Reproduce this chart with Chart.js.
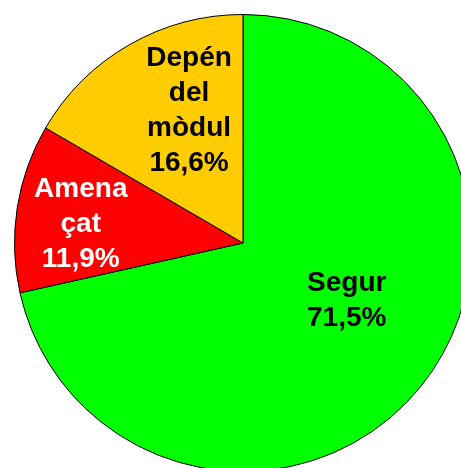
<!DOCTYPE html>
<html>
<head>
<meta charset="utf-8">
<script src="https://cdn.jsdelivr.net/npm/chart.js@4"></script>
<style>
  html, body { margin: 0; padding: 0; background: #fff; overflow: hidden; }
  #wrap { width: 461px; height: 468px; overflow: hidden; position: relative; }
  #chart { display: block; }
</style>
</head>
<body>
<div id="wrap"><canvas id="chart" width="486" height="486"></canvas></div>
<script>
// ---------- Dados ----------
const categories = ['Segur', 'Amenaçat', 'Depén del mòdul'];
const values     = [71.5, 11.9, 16.6];
const labelLines = [['Segur', '71,5%'], ['Amena', 'çat', '11,9%'], ['Depén', 'del', 'mòdul', '16,6%']];
const colors     = ['#00FF00', '#FF0000', '#FFCC00'];
const textColors = ['#000000', '#FFFFFF', '#000000'];

// posição dos rótulos (fração do raio, relativa ao centro)
const labelPos = [[0.454, 0.255], [-0.71, -0.08], [-0.236, -0.578]];

// ---------- Plugin de rótulos ----------
const sliceLabels = {
  id: 'sliceLabels',
  afterDatasetsDraw(chart) {
    const { ctx } = chart;
    const meta = chart.getDatasetMeta(0);
    ctx.save();
    ctx.font = 'bold 28px "Liberation Sans", Arial, sans-serif';
    ctx.textAlign = 'center';
    ctx.textBaseline = 'middle';
    meta.data.forEach((arc, i) => {
      const { x, y, outerRadius } = arc.getProps(['x', 'y', 'outerRadius'], true);
      const cx = x + labelPos[i][0] * outerRadius;
      const cy = y + labelPos[i][1] * outerRadius;
      const lines = labelLines[i];
      const lh = 35;
      ctx.fillStyle = textColors[i];
      lines.forEach((t, k) => {
        ctx.fillText(t, cx, cy + (k - (lines.length - 1) / 2) * lh);
      });
    });
    ctx.restore();
  }
};

new Chart(document.getElementById('chart'), {
  type: 'pie',
  data: {
    labels: categories,
    datasets: [{
      data: values,
      backgroundColor: colors,
      borderColor: '#000000',
      borderWidth: 1
    }]
  },
  options: {
    responsive: false,
    animation: false,
    layout: { padding: 14 },
    plugins: {
      legend: { display: false },
      tooltip: { enabled: false }
    }
  },
  plugins: [sliceLabels]
});
</script>
</body>
</html>
